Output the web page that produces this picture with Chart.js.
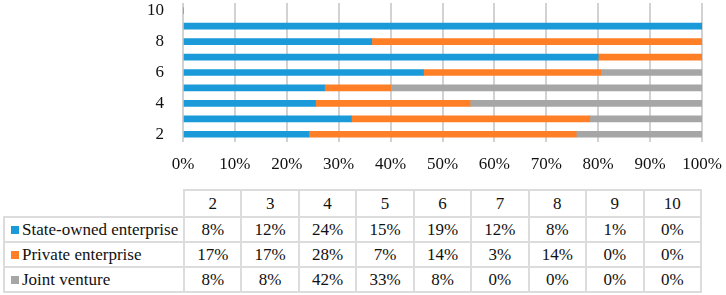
<!DOCTYPE html>
<html>
<head>
<meta charset="utf-8">
<script src="https://cdn.jsdelivr.net/npm/chart.js@4/dist/chart.umd.min.js"></script>
<style>
  body { margin: 0; background: #fff; width: 726px; height: 295px; overflow: hidden; position: relative; font-family: "Liberation Serif", "Times New Roman", serif; }
  #wrap { position: absolute; left: 0; top: 0; width: 726px; height: 175px; }
  table { position: absolute; left: 3px; top: 189px; width: 699px; table-layout: fixed; border-collapse: collapse; font-size: 17px; color: #111; }
  td { border: 2px solid #dcdcdc; text-align: center; padding: 0; height: 23px; overflow: hidden; }
  td.name { text-align: left; padding-left: 6px; white-space: nowrap; }
  td.blank { border-top: none; border-left: none; }
  tr.head td { height: 25px; }
  .key { display: inline-block; width: 8px; height: 8px; margin-right: 3px; vertical-align: 1px; }
</style>
</head>
<body>
<div id="wrap"><canvas id="chart"></canvas></div>
<table id="tbl"></table>
<script>
const categories = ['2', '3', '4', '5', '6', '7', '8', '9', '10']
const stateOwned = [8, 12, 24, 15, 19, 12, 8, 1, 0]
const privateEnt = [17, 17, 28, 7, 14, 3, 14, 0, 0]
const jointVenture = [8, 8, 42, 33, 8, 0, 0, 0, 0]

const series = [
  { label: 'State-owned enterprise', values: stateOwned, color: '#1a9ad8' },
  { label: 'Private enterprise', values: privateEnt, color: '#ff7f27' },
  { label: 'Joint venture', values: jointVenture, color: '#a6a6a6' },
]

// 100% stacked: share of each series within a category
const totals = categories.map((_, i) => series.reduce((s, d) => s + d.values[i], 0))
const share = (vals) => vals.map((v, i) => totals[i] ? v / totals[i] * 100 : 0)

const ctx = document.getElementById('chart').getContext('2d')
new Chart(ctx, {
  type: 'bar',
  data: {
    labels: categories,
    datasets: series.map(s => ({
      label: s.label,
      data: share(s.values),
      backgroundColor: s.color,
      barThickness: 6,
    })),
  },
  options: {
    indexAxis: 'y',
    responsive: true,
    maintainAspectRatio: false,
    animation: false,
    layout: { padding: { left: 0, right: 24, top: 3, bottom: 0 } },
    plugins: {
      legend: { display: false },
      tooltip: { enabled: false },
    },
    scales: {
      x: {
        stacked: true,
        min: 0,
        max: 100,
        // fixed axis height, no extra room for the end labels
        afterFit: (scale) => { scale.height = 33; scale.paddingLeft = 0; scale.paddingRight = 0 },
        grid: { color: '#d2d2d2', lineWidth: 2, drawTicks: false },
        border: { display: false },
        ticks: {
          stepSize: 10,
          padding: 12,
          color: '#111',
          font: { family: '"Liberation Serif", serif', size: 17 },
          callback: v => v + '%',
        },
      },
      y: {
        stacked: true,
        reverse: true,
        afterFit: (scale) => { scale.width = 183; scale.paddingTop = 0; scale.paddingBottom = 0 },
        grid: { display: false },
        border: { display: false },
        ticks: {
          autoSkip: false,
          padding: 11,
          color: '#111',
          font: { family: '"Liberation Serif", serif', size: 17 },
          callback: (v, i) => i % 2 === 0 ? categories[i] : '',
        },
      },
    },
  },
})

// data table under the chart
const tbl = document.getElementById('tbl')
let html = '<colgroup><col style="width:180px">' + categories.map(() => '<col>').join('') + '</colgroup>'
html += '<tr class="head"><td class="name blank"></td>' + categories.map(c => '<td>' + c + '</td>').join('') + '</tr>'
series.forEach(s => {
  html += '<tr><td class="name"><span class="key" style="background:' + s.color + '"></span>' + s.label + '</td>' +
    s.values.map(v => '<td>' + v + '%</td>').join('') + '</tr>'
})
tbl.innerHTML = html
</script>
</body>
</html>
